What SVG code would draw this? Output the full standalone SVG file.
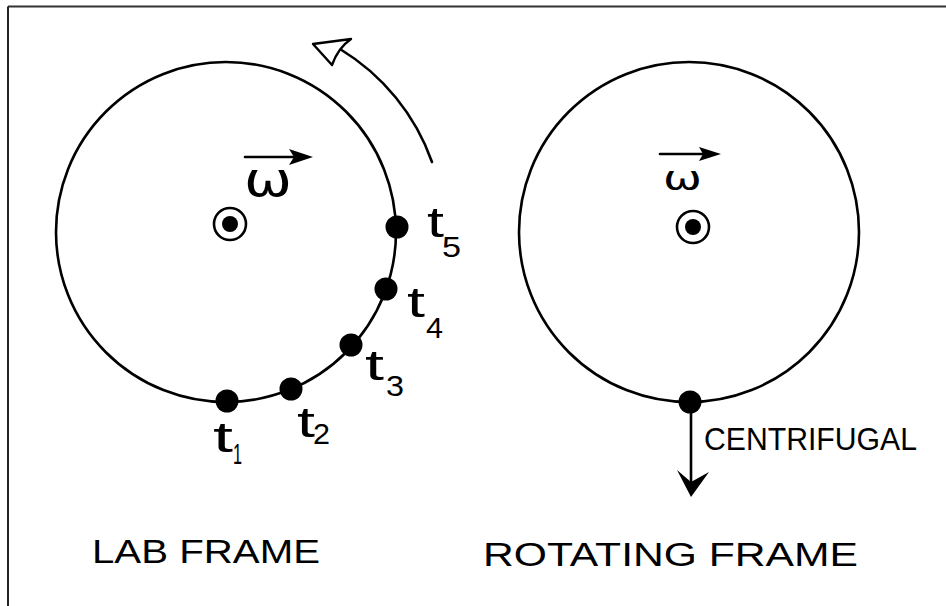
<svg xmlns="http://www.w3.org/2000/svg" width="946" height="606" viewBox="0 0 946 606">
<defs>
<style>
.ring{fill:none;stroke:#000;stroke-width:2.6}
.dot{fill:#000}
.ln{fill:none;stroke:#000;stroke-width:2.6;stroke-linecap:round}
.hand{font-family:"Liberation Sans","DejaVu Sans",sans-serif;fill:#000}
.lbl{font-size:33px}
.t{font-size:42px}
.sub{font-size:30px}
.om{font-family:"DejaVu Sans","Liberation Sans",sans-serif;fill:#000}
</style>
</defs>
<rect x="0" y="0" width="946" height="606" fill="#fff"/>
<g id="frame">
<line x1="8" y1="6.5" x2="946" y2="6.5" stroke="#333" stroke-width="2"/>
<line x1="8" y1="6.5" x2="8" y2="606" stroke="#222" stroke-width="2"/>
</g>

<g id="lab-circle">
<circle class="ring" cx="226" cy="232" r="170"/>
</g>
<g id="lab-axis">
<circle cx="230" cy="224" r="16" fill="none" stroke="#000" stroke-width="2.6"/>
<circle class="dot" cx="230" cy="224" r="8"/>
<text class="om" x="244" y="196" font-size="48" textLength="48" lengthAdjust="spacingAndGlyphs">ω</text>
</g>
<g id="t1"><circle class="dot" cx="227" cy="401" r="11.5"/>
<text class="hand t" x="213" y="452" textLength="20" lengthAdjust="spacingAndGlyphs">t</text><text class="hand sub" x="233" y="464" textLength="9" lengthAdjust="spacingAndGlyphs">1</text></g>
<g id="t2"><circle class="dot" cx="291" cy="389" r="11.5"/>
<text class="hand t" x="297" y="437" textLength="18" lengthAdjust="spacingAndGlyphs">t</text><text class="hand sub" x="313" y="444" textLength="17" lengthAdjust="spacingAndGlyphs">2</text></g>
<g id="t3"><circle class="dot" cx="351" cy="345" r="11.5"/>
<text class="hand t" x="365" y="380" textLength="19" lengthAdjust="spacingAndGlyphs">t</text><text class="hand sub" x="386" y="396" textLength="18" lengthAdjust="spacingAndGlyphs">3</text></g>
<g id="t4"><circle class="dot" cx="386" cy="289" r="11.5"/>
<text class="hand t" x="407" y="317" textLength="18" lengthAdjust="spacingAndGlyphs">t</text><text class="hand sub" x="426" y="338" textLength="17" lengthAdjust="spacingAndGlyphs">4</text></g>
<g id="t5"><circle class="dot" cx="397" cy="227" r="11.5"/>
<text class="hand t" x="427" y="237" textLength="17" lengthAdjust="spacingAndGlyphs">t</text><text class="hand sub" x="442" y="257" textLength="19" lengthAdjust="spacingAndGlyphs">5</text></g>
<g id="lab-label"><text class="hand lbl" x="92" y="563" textLength="228" lengthAdjust="spacingAndGlyphs">LAB FRAME</text></g>

<g id="rot-circle">
<circle class="ring" cx="689" cy="232" r="170"/>
</g>
<g id="rot-axis">
<circle cx="693" cy="227" r="16" fill="none" stroke="#000" stroke-width="2.6"/>
<circle class="dot" cx="693" cy="227" r="8"/>
<text class="om" x="663" y="190" font-size="34" textLength="39" lengthAdjust="spacingAndGlyphs">ω</text>
</g>
<g id="mass"><circle class="dot" cx="690" cy="402" r="11.5"/></g>
<g id="centrifugal-label"><text class="hand" x="704" y="450" font-size="31" textLength="213" lengthAdjust="spacingAndGlyphs">CENTRIFUGAL</text></g>
<g id="rot-label"><text class="hand lbl" x="483" y="566" font-size="34" textLength="375" lengthAdjust="spacingAndGlyphs">ROTATING FRAME</text></g>

<g id="connectors">
<path class="ln" d="M432,162 A217,217 0 0 0 340,49"/>
<path d="M313,44 L351,39 Q338,48 332,65 Z" fill="#fff" stroke="#000" stroke-width="2.4" stroke-linejoin="round"/>
<line class="ln" x1="245" y1="157" x2="300" y2="157"/>
<path class="dot" d="M289,149 L313,157 L289,165 L294,157 Z"/>
<line class="ln" x1="660" y1="154" x2="708" y2="154"/>
<path class="dot" d="M699,147 L721,154 L699,161 L703,154 Z"/>
<line class="ln" x1="691" y1="402" x2="691" y2="488"/>
<path class="dot" d="M677,470 L691,497 L709,472 L691,482 Z"/>
</g>
</svg>
